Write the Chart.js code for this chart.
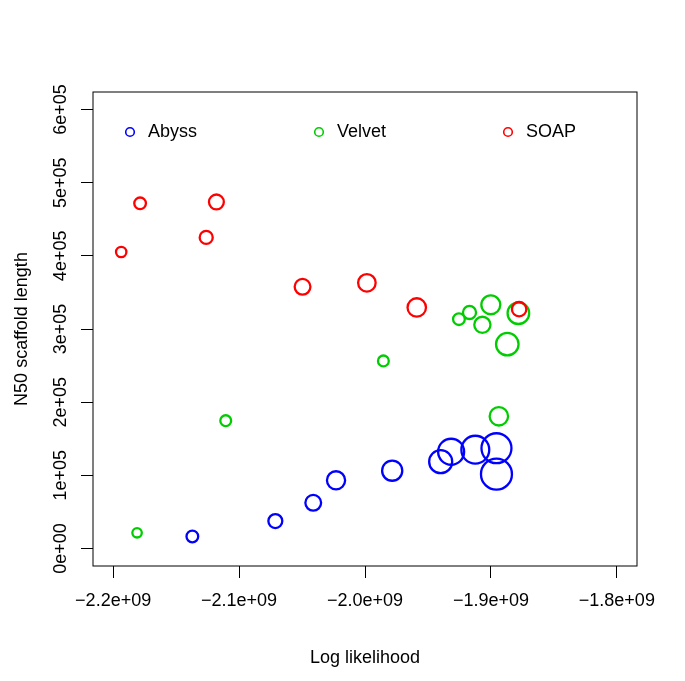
<!DOCTYPE html>
<html>
<head>
<meta charset="utf-8">
<title>N50 vs log likelihood</title>
<script src="https://cdn.jsdelivr.net/npm/chart.js@4/dist/chart.umd.min.js"></script>
<style>
    html, body { margin: 0; padding: 0; background: #fff; }
    #chart { display: block; }
</style>
</head>
<body>
<canvas id="chart" width="685" height="681"></canvas>
<script>
// ============================================================
// Assemblers: N50 scaffold length vs log likelihood
// ============================================================

// --- Data ---
const seriesNames = ['Abyss', 'Velvet', 'SOAP'];

const abyssX = [-2.1371e9, -2.0712e9, -2.0411e9, -2.0230e9, -1.9784e9, -1.9399e9, -1.9316e9, -1.9124e9, -1.8956e9, -1.8956e9];
const abyssY = [16400, 37400, 62400, 93100, 106300, 118600, 132200, 135000, 137000, 101600];
const abyssSize = [1.3, 1.55, 1.75, 2.02, 2.24, 2.56, 2.89, 3.1, 3.33, 3.44];

const velvetX = [-2.1810e9, -2.1106e9, -1.9854e9, -1.9254e9, -1.9170e9, -1.9068e9, -1.9001e9, -1.8782e9, -1.8870e9, -1.8937e9];
const velvetY = [21400, 174700, 256400, 313500, 322600, 305700, 333100, 321600, 279200, 180700];
const velvetSize = [1.05, 1.2, 1.2, 1.3, 1.45, 1.8, 2.1, 2.4, 2.5, 2.05];

const soapX = [-2.1936e9, -2.1786e9, -2.1261e9, -2.1180e9, -2.0496e9, -1.9985e9, -1.9589e9, -1.8776e9];
const soapY = [405200, 471800, 425200, 473700, 357700, 363100, 329400, 327100];
const soapSize = [1.15, 1.3, 1.45, 1.65, 1.75, 1.95, 2.05, 1.6];

const xTicks = [-2.2e9, -2.1e9, -2.0e9, -1.9e9, -1.8e9];
const xTickLabels = ['\u22122.2e+09', '\u22122.1e+09', '\u22122.0e+09', '\u22121.9e+09', '\u22121.8e+09'];
const yTicks = [0, 1e5, 2e5, 3e5, 4e5, 5e5, 6e5];
const yTickLabels = ['0e+00', '1e+05', '2e+05', '3e+05', '4e+05', '5e+05', '6e+05'];

// --- Style ---
const FONT = "'Liberation Sans', Arial, Helvetica, sans-serif";
const seriesColors = ['#0000FF', '#00CD00', '#FF0000'];
const BASE_R = 4.5; // px per unit of size (like cex)

function toPoints(xs, ys, sizes) {
    return xs.map((x, i) => ({ x: x, y: ys[i], r: sizes[i] * BASE_R }));
}

// Box round the plot, rotated y labels and the horizontal legend (R style)
const baseGraphics = {
    id: 'baseGraphics',
    afterDraw(chart) {
        const ctx = chart.ctx;
        const a = chart.chartArea;
        const yScale = chart.scales.y;

        ctx.save();
        ctx.strokeStyle = '#000';
        ctx.lineWidth = 1;
        ctx.strokeRect(a.left, a.top, a.right - a.left, a.bottom - a.top);

        // y tick labels, parallel to the axis
        ctx.fillStyle = '#000';
        ctx.font = '18px ' + FONT;
        ctx.textAlign = 'center';
        ctx.textBaseline = 'middle';
        yTicks.forEach((v, i) => {
            const py = yScale.getPixelForValue(v);
            ctx.save();
            ctx.translate(a.left - 31.5, py);
            ctx.rotate(-Math.PI / 2);
            ctx.fillText(yTickLabels[i], 0, 0);
            ctx.restore();
        });

        // legend inside the plot, top left, horizontal
        ctx.textAlign = 'left';
        chart.data.datasets.slice().sort((p, q) => p.legendIndex - q.legendIndex).forEach((ds, i) => {
            const lx = a.left + 37 + i * 189;
            const ly = a.top + 40;
            ctx.beginPath();
            ctx.arc(lx, ly, 4.3, 0, Math.PI * 2);
            ctx.strokeStyle = ds.borderColor;
            ctx.lineWidth = 1.6;
            ctx.stroke();
            ctx.fillStyle = '#000';
            ctx.fillText(ds.label, lx + 18, ly);
        });
        ctx.restore();
    }
};

const ctx = document.getElementById('chart');

new Chart(ctx, {
    type: 'bubble',
    data: {
        datasets: [
            // SOAP is drawn last (on top), so it goes first with the lowest order
            { label: seriesNames[2], legendIndex: 2, order: 0, data: toPoints(soapX, soapY, soapSize), borderColor: seriesColors[2] },
            { label: seriesNames[1], legendIndex: 1, order: 1, data: toPoints(velvetX, velvetY, velvetSize), borderColor: seriesColors[1] },
            { label: seriesNames[0], legendIndex: 0, order: 2, data: toPoints(abyssX, abyssY, abyssSize), borderColor: seriesColors[0] }
        ]
    },
    options: {
        responsive: false,
        animation: false,
        devicePixelRatio: 1,
        layout: { autoPadding: false, padding: { top: 92, right: 48, bottom: 0, left: 0 } },
        elements: {
            point: { backgroundColor: 'rgba(0,0,0,0)', borderWidth: 2.3, hoverBorderWidth: 2.3 }
        },
        plugins: {
            legend: { display: false },
            tooltip: { enabled: false }
        },
        scales: {
            x: {
                type: 'linear',
                min: -2.216e9,
                max: -1.784e9,
                afterBuildTicks: s => { s.ticks = xTicks.map(v => ({ value: v })); },
                afterFit: s => { s.height = 115; },
                grid: { drawOnChartArea: false, drawTicks: true, tickLength: 12, color: '#000', lineWidth: 1 },
                border: { display: false },
                ticks: {
                    color: '#000',
                    font: { family: FONT, size: 18 },
                    padding: 12,
                    maxRotation: 0,
                    minRotation: 0,
                    autoSkip: false,
                    callback: (v, i) => xTickLabels[i]
                },
                title: {
                    display: true,
                    text: 'Log likelihood',
                    color: '#000',
                    font: { family: FONT, size: 18 },
                    padding: { top: 0, bottom: 12 }
                }
            },
            y: {
                type: 'linear',
                min: -24000,
                max: 624000,
                afterBuildTicks: s => { s.ticks = yTicks.map(v => ({ value: v })); },
                afterFit: s => { s.width = 93; },
                grid: { drawOnChartArea: false, drawTicks: true, tickLength: 12, color: '#000', lineWidth: 1 },
                border: { display: false },
                ticks: { display: false },
                title: {
                    display: true,
                    text: 'N50 scaffold length',
                    color: '#000',
                    font: { family: FONT, size: 18 },
                    padding: { top: 11, bottom: 0 }
                }
            }
        }
    },
    plugins: [baseGraphics]
});
</script>
</body>
</html>
